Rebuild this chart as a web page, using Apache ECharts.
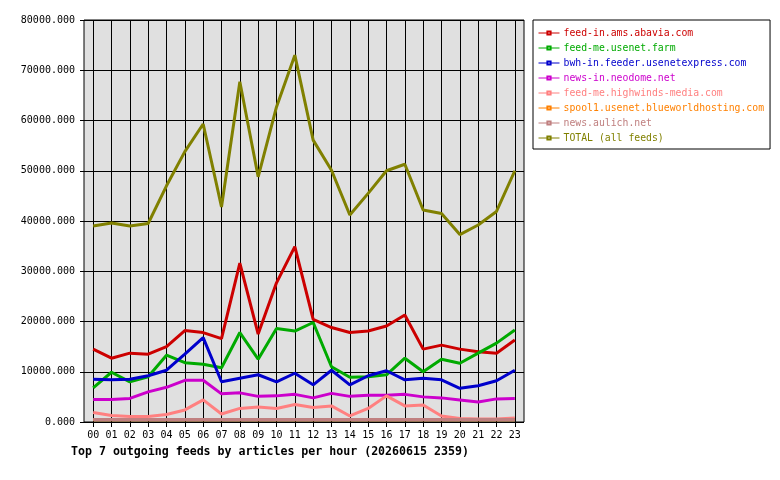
<!DOCTYPE html>
<html>
<head>
<meta charset="utf-8">
<script src="https://cdn.jsdelivr.net/npm/echarts@6/dist/echarts.min.js"></script>
<style>
  html, body { margin: 0; padding: 0; background: #fff; }
  #chart { width: 780px; height: 480px; }
</style>
</head>
<body>
<div id="chart"></div>
<script>
// hours of the day
var hours = ['00', '01', '02', '03', '04', '05', '06', '07', '08', '09', '10', '11',
  '12', '13', '14', '15', '16', '17', '18', '19', '20', '21', '22', '23'];

var feedNames = [
  'feed-in.ams.abavia.com',
  'feed-me.usenet.farm',
  'bwh-in.feeder.usenetexpress.com',
  'news-in.neodome.net',
  'feed-me.highwinds-media.com',
  'spool1.usenet.blueworldhosting.com',
  'news.aulich.net',
  'TOTAL (all feeds)'
];

var feedColors = ['#cc0000', '#00aa00', '#0000cc', '#cc00cc', '#ff8080', '#ff8000', '#c08080', '#808000'];

// articles per hour, per feed
var abavia = [14500, 12700, 13700, 13500, 15000, 18200, 17800, 16600, 31600, 17500, 27700, 34900,
  20400, 18800, 17800, 18100, 19100, 21300, 14500, 15300, 14500, 14000, 13700, 16300];
var usenetFarm = [6800, 9900, 8000, 9000, 13300, 11800, 11500, 10800, 17800, 12500, 18600, 18100,
  19800, 11000, 8900, 9000, 9400, 12700, 10000, 12500, 11700, 13700, 15700, 18300];
var usenetExpress = [8500, 8400, 8500, 9200, 10300, 13500, 16800, 8000, 8700, 9400, 8000, 9700,
  7400, 10300, 7400, 9200, 10200, 8400, 8700, 8400, 6700, 7200, 8200, 10300];
var neodome = [4500, 4500, 4700, 6000, 6900, 8300, 8300, 5600, 5800, 5100, 5200, 5500,
  4800, 5700, 5100, 5300, 5300, 5500, 5000, 4800, 4400, 4000, 4600, 4700];
var highwinds = [1900, 1300, 1100, 1100, 1500, 2400, 4400, 1600, 2700, 3000, 2700, 3500,
  2900, 3200, 1200, 2700, 5200, 3200, 3400, 1200, 700, 600, 600, 800];
var blueworld = [450, 450, 450, 450, 450, 450, 450, 450, 450, 450, 450, 450,
  450, 450, 450, 450, 450, 450, 450, 450, 450, 450, 450, 450];
var aulich = [500, 500, 500, 500, 500, 500, 500, 500, 500, 500, 500, 500,
  500, 500, 500, 500, 500, 500, 500, 500, 500, 500, 500, 500];
var total = [39000, 39600, 39000, 39500, 47000, 53800, 59300, 42800, 67700, 48800, 62700, 73000,
  56100, 50100, 41200, 45500, 50000, 51300, 42200, 41500, 37300, 39200, 41900, 50000];

var feedValues = [abavia, usenetFarm, usenetExpress, neodome, highwinds, blueworld, aulich, total];

var yMin = 0;
var yMax = 80000;
var yStep = 10000;

var mono = 'DejaVu Sans Mono';

var series = feedNames.map(function (name, i) {
  return {
    name: name,
    type: 'line',
    xAxisIndex: 1,
    yAxisIndex: 1,
    data: feedValues[i],
    symbol: 'emptyRect',
    symbolSize: 3,
    showSymbol: false,
    color: feedColors[i],
    lineStyle: { width: 3, color: feedColors[i] },
    itemStyle: { color: feedColors[i], borderColor: feedColors[i], borderWidth: 1 }
  };
});

var chart = echarts.init(document.getElementById('chart'), null, { renderer: 'canvas' });

chart.setOption({
  animation: false,
  backgroundColor: '#ffffff',
  title: {
    text: 'Top 7 outgoing feeds by articles per hour (20260615 2359)',
    left: 71,
    top: 446,
    padding: 0,
    textStyle: { fontFamily: mono, fontSize: 11.6, fontWeight: 'bold', color: '#000' }
  },
  legend: {
    orient: 'vertical',
    left: 533,
    top: 20,
    padding: [8, 6, 6, 5],
    itemWidth: 21,
    itemHeight: 4,
    itemGap: 5,
    backgroundColor: '#fff',
    borderColor: '#000',
    borderWidth: 1,
    borderRadius: 0,
    lineStyle: { width: 1 },
    textStyle: { fontFamily: mono, fontSize: 9.8, lineHeight: 10, padding: [0, 0, 0, -1] },
    data: feedNames.map(function (name, i) {
      return { name: name, textStyle: { color: feedColors[i] } };
    })
  },
  grid: [
    {
      // frame with background and horizontal rules
      left: 84, right: 256, top: 20, bottom: 58,
      show: true,
      backgroundColor: '#e0e0e0',
      borderColor: '#000',
      borderWidth: 1
    },
    {
      // data area, inset half a slot so hours sit on the vertical rules
      left: 93.17, right: 265.17, top: 20, bottom: 58
    }
  ],
  xAxis: [
    { gridIndex: 0, type: 'value', show: false, min: 0, max: 1 },
    {
      gridIndex: 1,
      type: 'category',
      boundaryGap: false,
      data: hours,
      axisLine: { show: false },
      axisTick: { show: true, inside: false, length: 5, lineStyle: { color: '#000' } },
      axisLabel: { margin: 8, color: '#000', fontFamily: mono, fontSize: 10, interval: 0 },
      splitLine: { show: true, interval: 0, lineStyle: { color: '#000', width: 1 } }
    }
  ],
  yAxis: [
    {
      gridIndex: 0,
      type: 'value',
      min: yMin,
      max: yMax,
      interval: yStep,
      axisLine: { show: false },
      axisTick: { show: true, inside: false, length: 4, lineStyle: { color: '#000' } },
      axisLabel: {
        margin: 9, color: '#000', fontFamily: mono, fontSize: 10,
        formatter: function (v) { return v.toFixed(3); }
      },
      splitLine: { show: true, lineStyle: { color: '#000', width: 1 } }
    },
    { gridIndex: 1, type: 'value', min: yMin, max: yMax, interval: yStep, show: false }
  ],
  series: series
});
</script>
</body>
</html>
